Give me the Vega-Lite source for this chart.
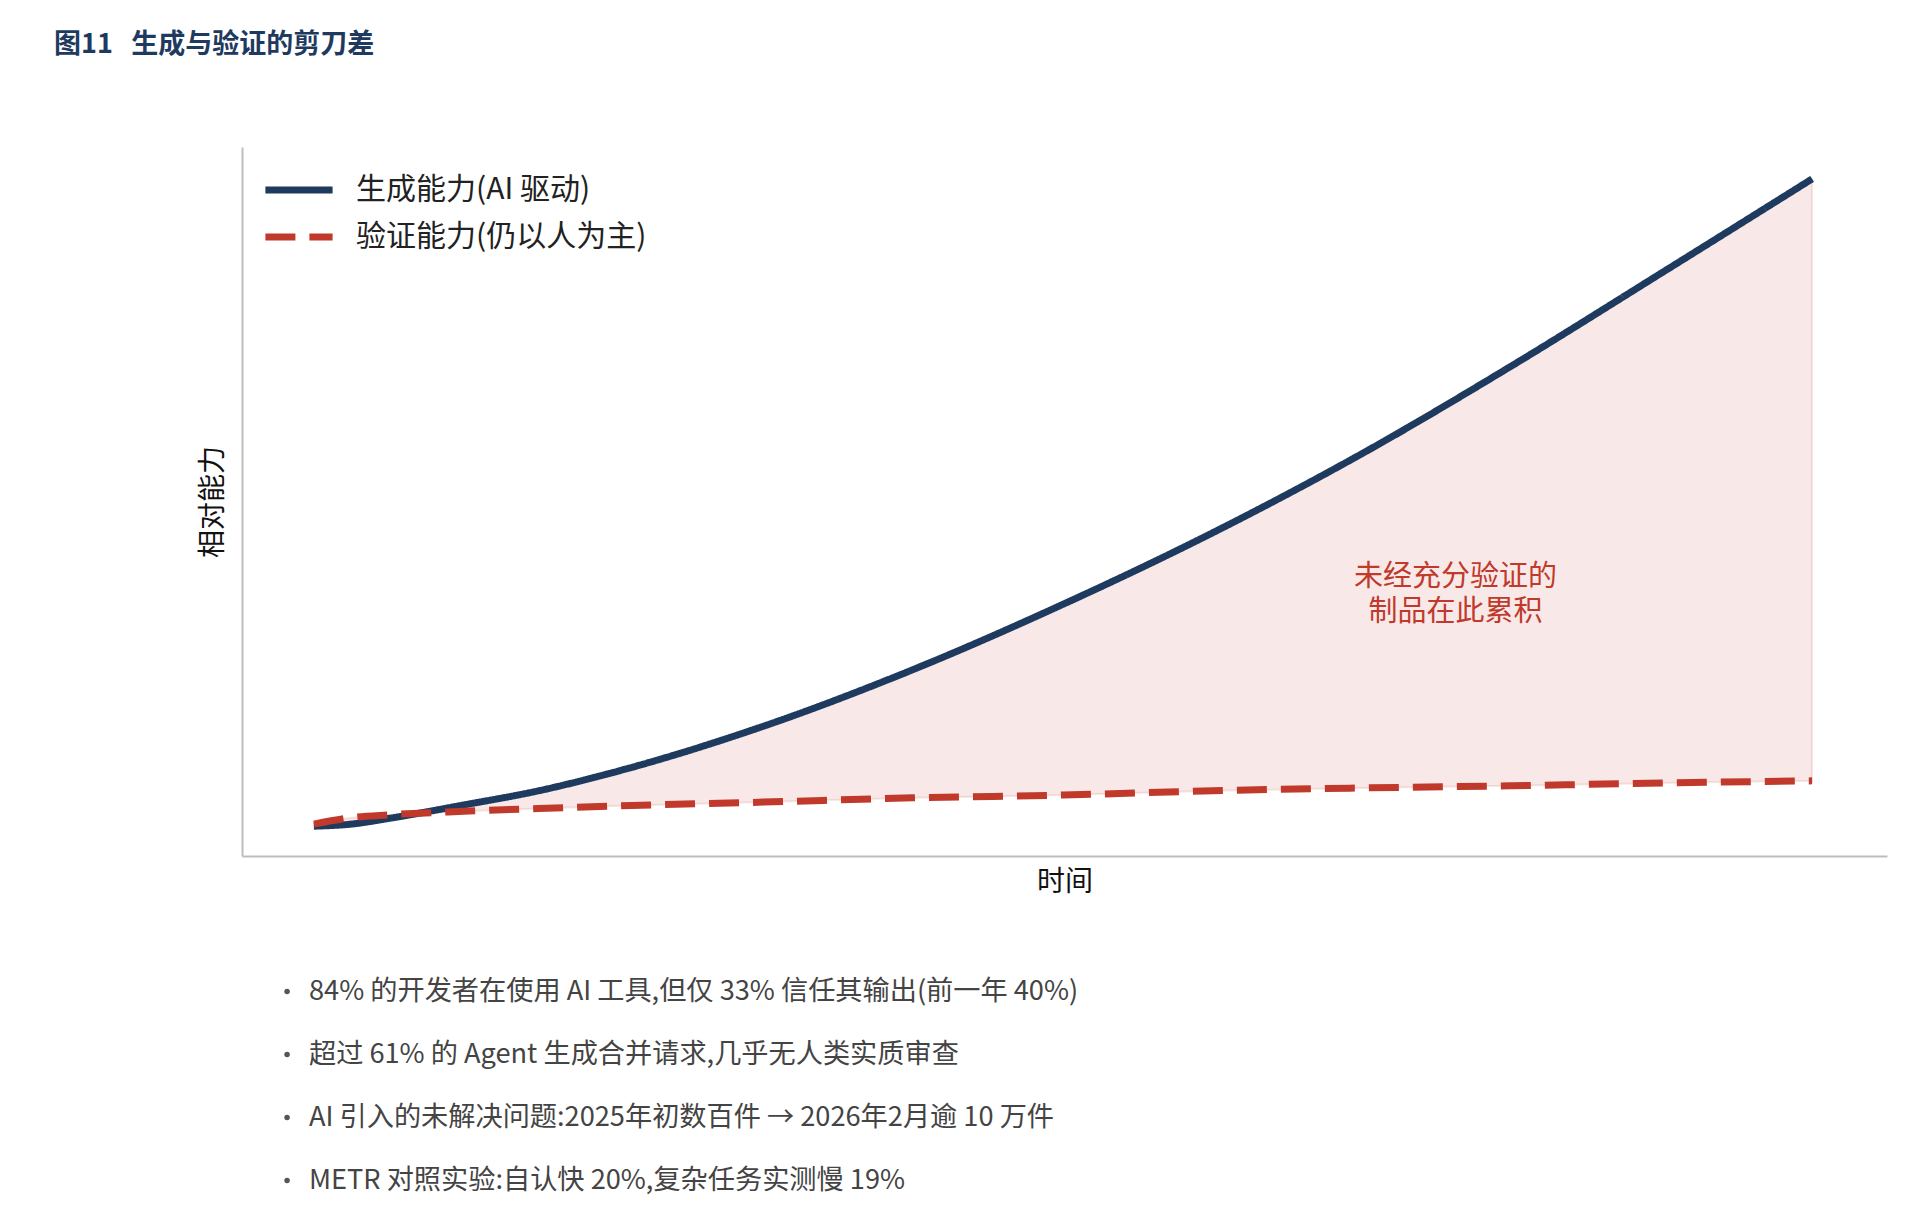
{
  "$schema": "https://vega.github.io/schema/vega-lite/v6.json",
  "padding": {"left": 54, "top": 31, "right": 18, "bottom": 10},
  "background": "white",
  "title": {
    "text": "图11\u00a0\u00a0\u00a0生成与验证的剪刀差",
    "anchor": "start",
    "frame": "group",
    "dx": -188,
    "offset": 88,
    "fontSize": 27,
    "fontWeight": "bold",
    "color": "#1f3a5f"
  },
  "bounds": "flush",
  "spacing": 104,
  "vconcat": [
    {
      "width": 1645,
      "height": 709,
      "data": {
        "values": [
          {"t": 0, "gen": 4.2, "ver": 4.5},
          {"t": 0.25, "gen": 4.5, "ver": 5.4},
          {"t": 0.5, "gen": 5.3, "ver": 5.8},
          {"t": 1, "gen": 7.2, "ver": 6.3},
          {"t": 1.5, "gen": 9.2, "ver": 6.7},
          {"t": 2, "gen": 11.8, "ver": 7.05},
          {"t": 3, "gen": 18.3, "ver": 7.6},
          {"t": 4, "gen": 26.3, "ver": 8.2},
          {"t": 5, "gen": 35.5, "ver": 8.6},
          {"t": 6, "gen": 45.6, "ver": 9.2},
          {"t": 7, "gen": 56.8, "ver": 9.6},
          {"t": 8, "gen": 69.2, "ver": 9.9},
          {"t": 9, "gen": 82.3, "ver": 10.3},
          {"t": 10, "gen": 95.5, "ver": 10.6}
        ]
      },
      "layer": [
        {
          "mark": {
            "type": "area",
            "interpolate": "monotone",
            "fill": "#c0392b",
            "fillOpacity": 0.11,
            "stroke": "#c0392b",
            "strokeOpacity": 0.12,
            "strokeWidth": 2
          },
          "encoding": {
            "x": {"field": "t", "type": "quantitative", "title": "时间", "scale": {"domain": [-0.48, 10.5], "nice": false, "zero": false}},
            "y": {"field": "gen", "type": "quantitative", "title": "相对能力", "scale": {"domain": [0, 100], "nice": false}},
            "y2": {"field": "ver"}
          }
        },
        {
          "transform": [{"fold": ["gen", "ver"], "as": ["series", "value"]}],
          "mark": {"type": "line", "interpolate": "monotone", "strokeWidth": 7, "strokeCap": "butt"},
          "encoding": {
            "x": {"field": "t", "type": "quantitative", "title": "时间", "scale": {"domain": [-0.48, 10.5], "nice": false, "zero": false}},
            "y": {"field": "value", "type": "quantitative", "title": "相对能力", "scale": {"domain": [0, 100], "nice": false}},
            "color": {
              "field": "series",
              "type": "nominal",
              "scale": {"domain": ["gen", "ver"], "range": ["#1f3a5f", "#c0392b"]},
              "legend": {
                "title": null,
                "orient": "none",
                "legendX": 42,
                "legendY": 28,
                "symbolType": "M-3.2,0H3.2",
                "symbolSize": 441,
                "symbolStrokeWidth": 7,
                "labelFontSize": 30,
                "labelColor": "#222222",
                "labelOffset": 42,
                "labelLimit": 0,
                "rowPadding": 17,
                "labelExpr": "datum.value == 'gen' ? '生成能力(AI 驱动)' : '验证能力(仍以人为主)'"
              }
            },
            "strokeDash": {
              "field": "series",
              "type": "nominal",
              "scale": {"domain": ["gen", "ver"], "range": [[1, 0], [30, 14]]}
            }
          }
        },
        {
          "data": {"values": [{"t": 7.62, "v": 39.3, "label": ["未经充分验证的", "制品在此累积"]}]},
          "mark": {"type": "text", "fontSize": 29, "color": "#c0392b", "lineHeight": 35, "align": "center", "baseline": "middle"},
          "encoding": {
            "x": {"field": "t", "type": "quantitative", "title": "时间", "scale": {"domain": [-0.48, 10.5], "nice": false, "zero": false}},
            "y": {"field": "v", "type": "quantitative", "title": "相对能力", "scale": {"domain": [0, 100], "nice": false}},
            "text": {"field": "label"}
          }
        }
      ]
    },
    {
      "width": 1645,
      "height": 252,
      "data": {
        "values": [
          {"n": 1, "text": "84% 的开发者在使用 AI 工具,但仅 33% 信任其输出(前一年 40%)"},
          {"n": 2, "text": "超过 61% 的 Agent 生成合并请求,几乎无人类实质审查"},
          {"n": 3, "text": "AI 引入的未解决问题:2025年初数百件 → 2026年2月逾 10 万件"},
          {"n": 4, "text": "METR 对照实验:自认快 20%,复杂任务实测慢 19%"}
        ]
      },
      "encoding": {
        "y": {"field": "n", "type": "ordinal", "scale": {"type": "point", "padding": 0.5}, "axis": null}
      },
      "layer": [
        {
          "mark": {"type": "circle", "size": 30, "color": "#555555", "opacity": 1},
          "encoding": {
            "x": {"datum": 2.74, "type": "quantitative", "scale": {"domain": [0, 100]}, "axis": null}
          }
        },
        {
          "mark": {"type": "text", "align": "left", "baseline": "middle", "fontSize": 27.2, "color": "#444444"},
          "encoding": {
            "x": {"datum": 4.07, "type": "quantitative", "scale": {"domain": [0, 100]}, "axis": null},
            "text": {"field": "text"}
          }
        }
      ]
    }
  ],
  "config": {
    "font": "Noto Sans CJK SC",
    "view": {"stroke": null},
    "axis": {
      "domainColor": "#bdbdbd",
      "domainWidth": 2,
      "ticks": false,
      "labels": false,
      "grid": false,
      "titleFontSize": 28,
      "titleFontWeight": "normal",
      "titleColor": "#111111"
    },
    "axisX": {"titlePadding": 12},
    "axisY": {"titlePadding": 15}
  }
}
